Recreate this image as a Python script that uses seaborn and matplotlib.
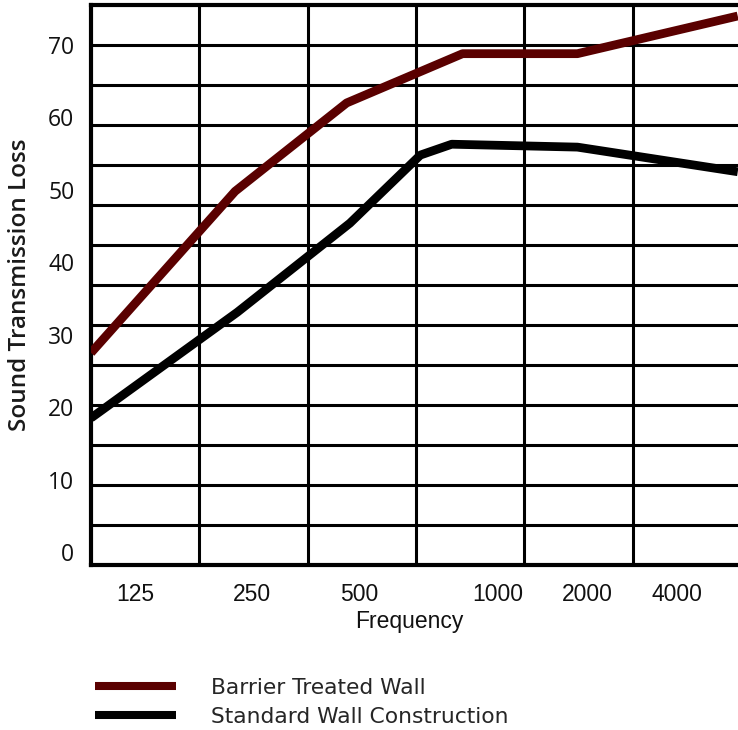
import numpy as np
import pandas as pd
import matplotlib
matplotlib.use("Agg")
import matplotlib.pyplot as plt
from matplotlib.lines import Line2D
import seaborn as sns

# vertex positions along the frequency axis (in octave-band columns, 0 = left edge)
barrier_x = [0, 1.33, 2.36, 3.43, 4.49, 5.97]
barrier_y = [27.5, 49.8, 62.0, 68.8, 68.8, 74.0]
standard_x = [0, 1.35, 2.39, 3.04, 3.33, 4.49, 5.97]
standard_y = [18.5, 33.1, 45.4, 54.8, 56.3, 55.9, 52.5]

series = ["Barrier Treated Wall", "Standard Wall Construction"]
colors = ["#5a0000", "#000000"]

freq_labels = ["125", "250", "500", "1000", "2000", "4000"]
freq_pos = [0.41, 1.49, 2.48, 3.75, 4.58, 5.41]
stl_ticks = [0, 10, 20, 30, 40, 50, 60, 70]

df = pd.concat([
    pd.DataFrame({"band": barrier_x, "stl": barrier_y, "wall": series[0]}),
    pd.DataFrame({"band": standard_x, "stl": standard_y, "wall": series[1]}),
])

sns.set_style("white")
plt.rcParams["font.family"] = ["DejaVu Sans"]

fig = plt.figure(figsize=(7.38, 7.30), dpi=100)
ax = fig.add_axes([91 / 738, 165 / 730, 650 / 738, 560 / 730])

ymin, ymax = -1.79, 75.52
ax.set_xlim(0, 6)
ax.set_ylim(ymin, ymax)

# grid: 5 vertical column lines, 14 horizontal bands
for u in range(1, 6):
    ax.axvline(u, color="black", lw=2.2, zorder=1)
for v in np.linspace(ymin, ymax, 15)[1:-1]:
    ax.axhline(v, color="black", lw=2.2, zorder=1)

sns.lineplot(data=df, x="band", y="stl", hue="wall", palette=dict(zip(series, colors)),
             linewidth=6.3, estimator=None, sort=False, legend=False, ax=ax, zorder=3,
             solid_capstyle="butt")

for s in ["top", "left", "bottom"]:
    ax.spines[s].set_linewidth(3)
    ax.spines[s].set_color("black")
ax.spines["right"].set_visible(False)

ax.set_yticks(stl_ticks)
ax.set_yticklabels([str(t) for t in stl_ticks], family="Open Sans", fontsize=16.5)
ax.set_xticks(freq_pos)
ax.set_xticklabels(freq_labels, family="Liberation Sans", fontsize=16.5)
ax.tick_params(axis="y", length=0, pad=12, colors="#111111")
ax.tick_params(axis="x", length=0, pad=13, colors="#111111")

ax.set_xlabel("Frequency", family="Liberation Sans", fontsize=16.5, color="#111111")
ax.xaxis.set_label_coords(0.49, -0.08)
ax.set_ylabel("Sound Transmission Loss", family="Open Sans", fontweight="semibold",
              fontsize=17.5, color="#1a1a1a")
ax.yaxis.set_label_coords(-0.091, 0.5)

handles = [Line2D([], [], color=c, lw=5.8, solid_capstyle="butt") for c in colors]
fig.legend(handles, series, loc="center left", bbox_to_anchor=(95 / 738, 0.0377),
           frameon=False, fontsize=15.7, handlelength=3.7, handletextpad=1.6,
           labelspacing=0.42, borderpad=0, borderaxespad=0)

fig.savefig("out.png", dpi=100)
